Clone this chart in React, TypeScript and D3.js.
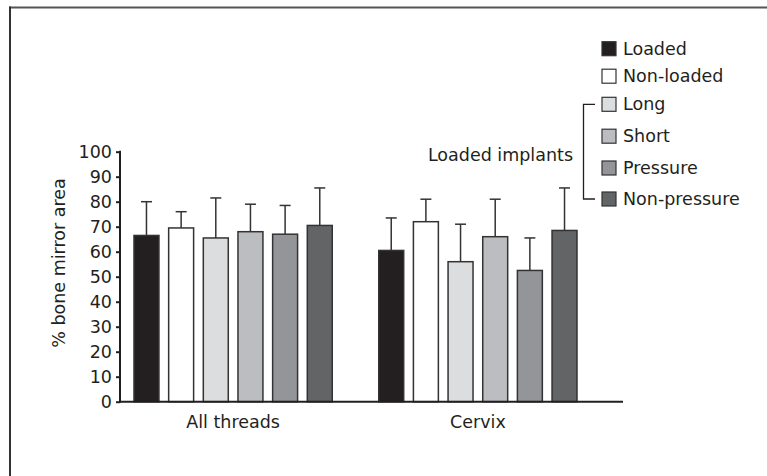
import React, { useRef, useEffect } from 'react';
import { select, scaleLinear, scaleBand, axisLeft } from 'd3';

const groups = ['All threads', 'Cervix'];
const series = ['Loaded', 'Non-loaded', 'Long', 'Short', 'Pressure', 'Non-pressure'];
const colors = ['#231f20', '#ffffff', '#dcdddf', '#bcbdc0', '#939598', '#636466'];
// mean values per group, same order as series
const allThreads = [66.5, 69.5, 65.5, 68, 67, 70.5];
const cervix = [60.5, 72, 56, 66, 52.5, 68.5];
// top of the error bars (mean + SD)
const allThreadsErr = [80, 76, 81.5, 79, 78.5, 85.5];
const cervixErr = [73.5, 81, 71, 81, 65.5, 85.5];
const yTicks = [0, 10, 20, 30, 40, 50, 60, 70, 80, 90, 100];

const FONT = 'DejaVu Sans, sans-serif';
const FS = 17.5;

function App() {
  const svgRef = useRef<SVGSVGElement>(null);

  useEffect(() => {
    const svg = select(svgRef.current);
    svg.selectAll('*').remove();

    const yScale = scaleLinear().domain([0, 100]).range([401.7, 151.7]);
    const xScale = scaleBand().domain(groups).range([134, 577]).paddingInner(0.19);
    const inner = scaleBand()
      .domain(series)
      .range([0, xScale.bandwidth()])
      .paddingInner(0.28)
      .paddingOuter(0);

    // frame (top and left only)
    svg.append('line').attr('x1', 9).attr('x2', 767).attr('y1', 7.5).attr('y2', 7.5)
      .attr('stroke', '#555').attr('stroke-width', 2);
    svg.append('line').attr('x1', 10).attr('x2', 10).attr('y1', 6.5).attr('y2', 476)
      .attr('stroke', '#333').attr('stroke-width', 2);

    const values = [allThreads, cervix];
    const errs = [allThreadsErr, cervixErr];
    const rows = groups.flatMap((g, gi) =>
      series.map((s, si) => ({ g, s, si, v: values[gi][si], e: errs[gi][si] }))
    );

    const bx = (d: any) => (xScale(d.g) as number) + (inner(d.s) as number);

    // error bars
    const eb = svg.append('g').attr('stroke', '#333').attr('stroke-width', 1.5);
    eb.selectAll('.stem').data(rows).join('line')
      .attr('x1', (d) => bx(d) + inner.bandwidth() / 2)
      .attr('x2', (d) => bx(d) + inner.bandwidth() / 2)
      .attr('y1', (d) => yScale(d.v))
      .attr('y2', (d) => yScale(d.e));
    eb.selectAll('.cap').data(rows).join('line')
      .attr('x1', (d) => bx(d) + inner.bandwidth() / 2 - 5.5)
      .attr('x2', (d) => bx(d) + inner.bandwidth() / 2 + 5.5)
      .attr('y1', (d) => yScale(d.e))
      .attr('y2', (d) => yScale(d.e));

    svg.append('g').selectAll('rect').data(rows).join('rect')
      .attr('x', bx)
      .attr('y', (d) => yScale(d.v))
      .attr('width', inner.bandwidth())
      .attr('height', (d) => yScale(0) - yScale(d.v))
      .attr('fill', (d) => colors[d.si])
      .attr('stroke', '#333')
      .attr('stroke-width', 1.5);

    // y axis
    const yAxis = axisLeft(yScale).tickValues(yTicks).tickSize(4).tickPadding(4);
    const ya = svg.append('g').attr('transform', 'translate(120,0)').call(yAxis);
    ya.select('.domain').remove();
    ya.selectAll('.tick line').attr('stroke', '#231f20').attr('stroke-width', 2);
    ya.selectAll('.tick text').attr('font-family', FONT).attr('font-size', FS)
      .attr('fill', '#231f20');
    svg.append('line').attr('x1', 120).attr('x2', 120)
      .attr('y1', yScale(100) - 1).attr('y2', yScale(0) + 1)
      .attr('stroke', '#231f20').attr('stroke-width', 2);

    // x axis line
    svg.append('line').attr('x1', 119).attr('x2', 623)
      .attr('y1', yScale(0)).attr('y2', yScale(0))
      .attr('stroke', '#231f20').attr('stroke-width', 2);

    svg.append('g').selectAll('text').data(groups).join('text')
      .attr('x', (d) => (xScale(d) as number) + xScale.bandwidth() / 2)
      .attr('y', 428)
      .attr('text-anchor', 'middle')
      .attr('font-family', FONT).attr('font-size', FS).attr('fill', '#231f20')
      .text((d) => d);

    // y label
    svg.append('text')
      .attr('transform', 'translate(65,263) rotate(-90)')
      .attr('text-anchor', 'middle')
      .attr('font-family', FONT).attr('font-size', FS).attr('fill', '#231f20')
      .text('% bone mirror area');

    // legend
    const legendY = [48.7, 76.2, 104.3, 136.2, 168, 199];
    const lg = svg.append('g');
    lg.selectAll('rect').data(series).join('rect')
      .attr('x', 602).attr('y', (d, i) => legendY[i] - 7)
      .attr('width', 14).attr('height', 14)
      .attr('fill', (d, i) => colors[i])
      .attr('stroke', '#333').attr('stroke-width', 1.2);
    lg.selectAll('text').data(series).join('text')
      .attr('x', 623).attr('y', (d, i) => legendY[i] + 6)
      .attr('font-family', FONT).attr('font-size', FS).attr('fill', '#231f20')
      .text((d) => d);

    // bracket for loaded implants
    svg.append('path')
      .attr('d', `M595,${legendY[2]}H583.5V${legendY[5]}H595`)
      .attr('fill', 'none').attr('stroke', '#231f20').attr('stroke-width', 1.3);
    svg.append('text')
      .attr('x', 573).attr('y', 161)
      .attr('text-anchor', 'end')
      .attr('font-family', FONT).attr('font-size', FS).attr('fill', '#231f20')
      .text('Loaded implants');
  }, []);

  return (
    <svg
      ref={svgRef}
      width={767}
      height={476}
      style={{ position: 'absolute', left: 0, top: 0, background: '#fff' }}
    />
  );
}

export default App;
